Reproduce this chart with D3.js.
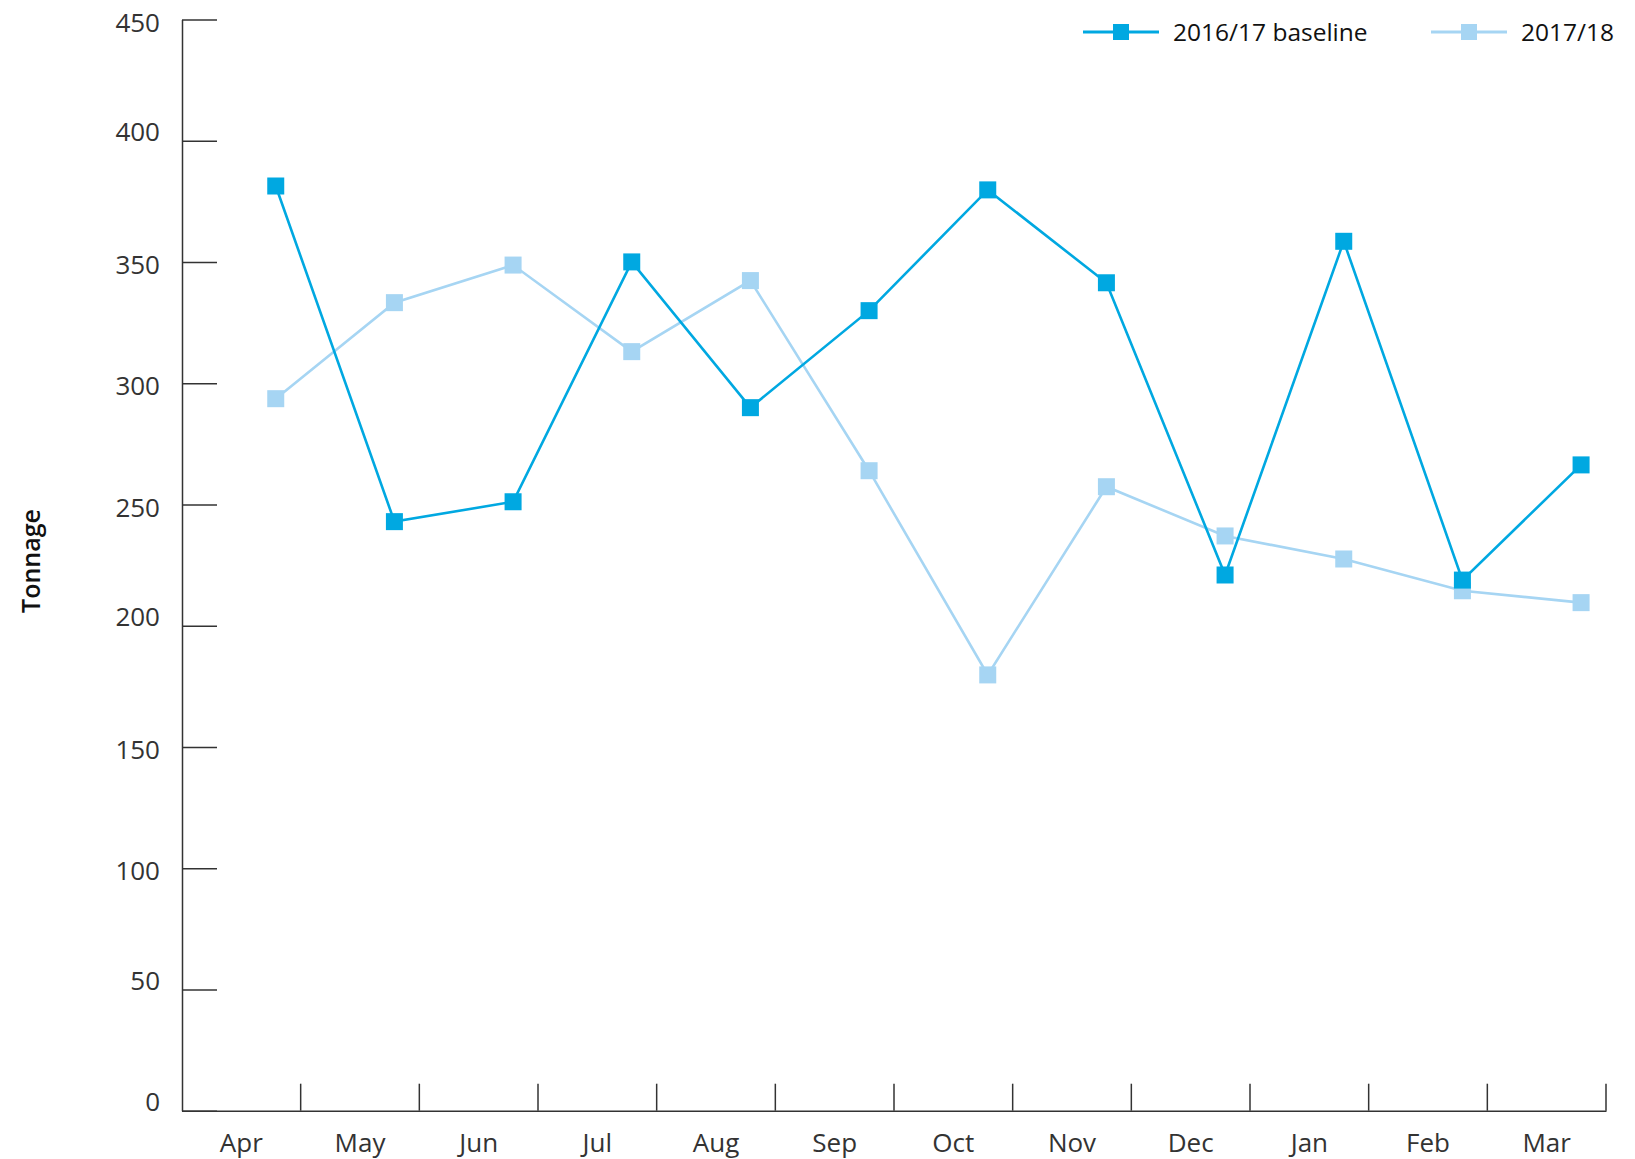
<!DOCTYPE html>
<html>
<head>
<meta charset="utf-8">
<script src="https://cdn.jsdelivr.net/npm/d3@7"></script>
<style>
  body { margin: 0; background: #fff; }
  svg { display: block; font-family: "Open Sans", sans-serif; }
</style>
</head>
<body>
<svg id="chart" width="1635" height="1159"></svg>
<script>
// data
const months = ["Apr", "May", "Jun", "Jul", "Aug", "Sep", "Oct", "Nov", "Dec", "Jan", "Feb", "Mar"];
const baseline = [381.3, 242.9, 251.1, 350.0, 289.9, 329.9, 379.7, 341.4, 220.9, 358.5, 218.8, 266.3];
const current = [293.6, 333.2, 348.7, 313.0, 342.3, 263.9, 179.7, 257.3, 237.0, 227.5, 214.4, 209.5];
const yTicks = [0, 50, 100, 150, 200, 250, 300, 350, 400, 450];

const series = [
    { name: "2017/18", values: current, color: "#a6d5f3" },
    { name: "2016/17 baseline", values: baseline, color: "#00a8e1" }
];

const svg = d3.select("#chart");
const plotLeft = 182, plotRight = 1606, plotTop = 19.4, plotBottom = 1110.7;

const x = d3.scaleBand().domain(months).range([plotLeft, plotRight]);
const y = d3.scaleLinear().domain([0, 450]).range([plotBottom, plotTop]);
// points sit towards the right of each month band in the original
const px = m => x(m) + x.bandwidth() * 0.79;

// some tick labels in the original sit a little above their tick
const raised = [0, 50, 200, 400];

// y axis
const yAxis = svg.append("g")
    .attr("transform", `translate(${plotLeft},0)`)
    .call(d3.axisLeft(y).tickValues(yTicks).tickSizeInner(-35).tickSizeOuter(0).tickPadding(22));
yAxis.select(".domain").attr("stroke", "#333").attr("stroke-width", 1.5);
yAxis.selectAll(".tick line").attr("stroke", "#333").attr("stroke-width", 1.5);
yAxis.selectAll(".tick text")
    .attr("fill", "#333")
    .attr("font-size", 26)
    .attr("dy", "0.45em")
    .attr("y", d => raised.includes(d) ? -12 : 0)
    .style("font-family", "'Open Sans', sans-serif");

// x axis
const xAxis = svg.append("g")
    .attr("transform", `translate(0,${plotBottom})`)
    .call(d3.axisBottom(x).tickSize(0).tickSizeOuter(0));
xAxis.select(".domain").attr("stroke", "#333").attr("stroke-width", 1.5);
xAxis.selectAll(".tick text")
    .attr("fill", "#333")
    .attr("font-size", 26)
    .attr("y", 41)
    .attr("dy", 0)
    .style("font-family", "'Open Sans', sans-serif");

// month separators going up from the axis
svg.append("g")
    .selectAll("line")
    .data(months)
    .join("line")
    .attr("x1", d => x(d) + x.bandwidth())
    .attr("x2", d => x(d) + x.bandwidth())
    .attr("y1", plotBottom)
    .attr("y2", plotBottom - 27)
    .attr("stroke", "#333")
    .attr("stroke-width", 1.5);

// y axis title
svg.append("text")
    .attr("transform", "translate(40,561) rotate(-90)")
    .attr("text-anchor", "middle")
    .attr("font-size", 25)
    .attr("font-weight", 600)
    .attr("fill", "#111")
    .text("Tonnage");

// lines and markers
const line = d3.line()
    .x((d, i) => px(months[i]))
    .y(d => y(d));

const mark = 17;
series.forEach(s => {
    svg.append("path")
        .datum(s.values)
        .attr("fill", "none")
        .attr("stroke", s.color)
        .attr("stroke-width", 2.6)
        .attr("d", line);

    svg.append("g")
        .selectAll("rect")
        .data(s.values)
        .join("rect")
        .attr("x", (d, i) => px(months[i]) - mark / 2)
        .attr("y", d => y(d) - mark / 2)
        .attr("width", mark)
        .attr("height", mark)
        .attr("fill", s.color);
});

// legend
const legendItems = [
    { name: "2016/17 baseline", color: "#00a8e1", x: 1083 },
    { name: "2017/18", color: "#a6d5f3", x: 1431 }
];
const legend = svg.append("g")
    .selectAll("g")
    .data(legendItems)
    .join("g")
    .attr("transform", d => `translate(${d.x},32)`);
legend.append("line")
    .attr("x1", 0).attr("x2", 76)
    .attr("stroke", d => d.color)
    .attr("stroke-width", 3);
legend.append("rect")
    .attr("x", 38 - 8).attr("y", -8)
    .attr("width", 16).attr("height", 16)
    .attr("fill", d => d.color);
legend.append("text")
    .attr("x", 90)
    .attr("dy", "0.36em")
    .attr("font-size", 24.5)
    .attr("fill", "#111")
    .text(d => d.name);
</script>
</body>
</html>
